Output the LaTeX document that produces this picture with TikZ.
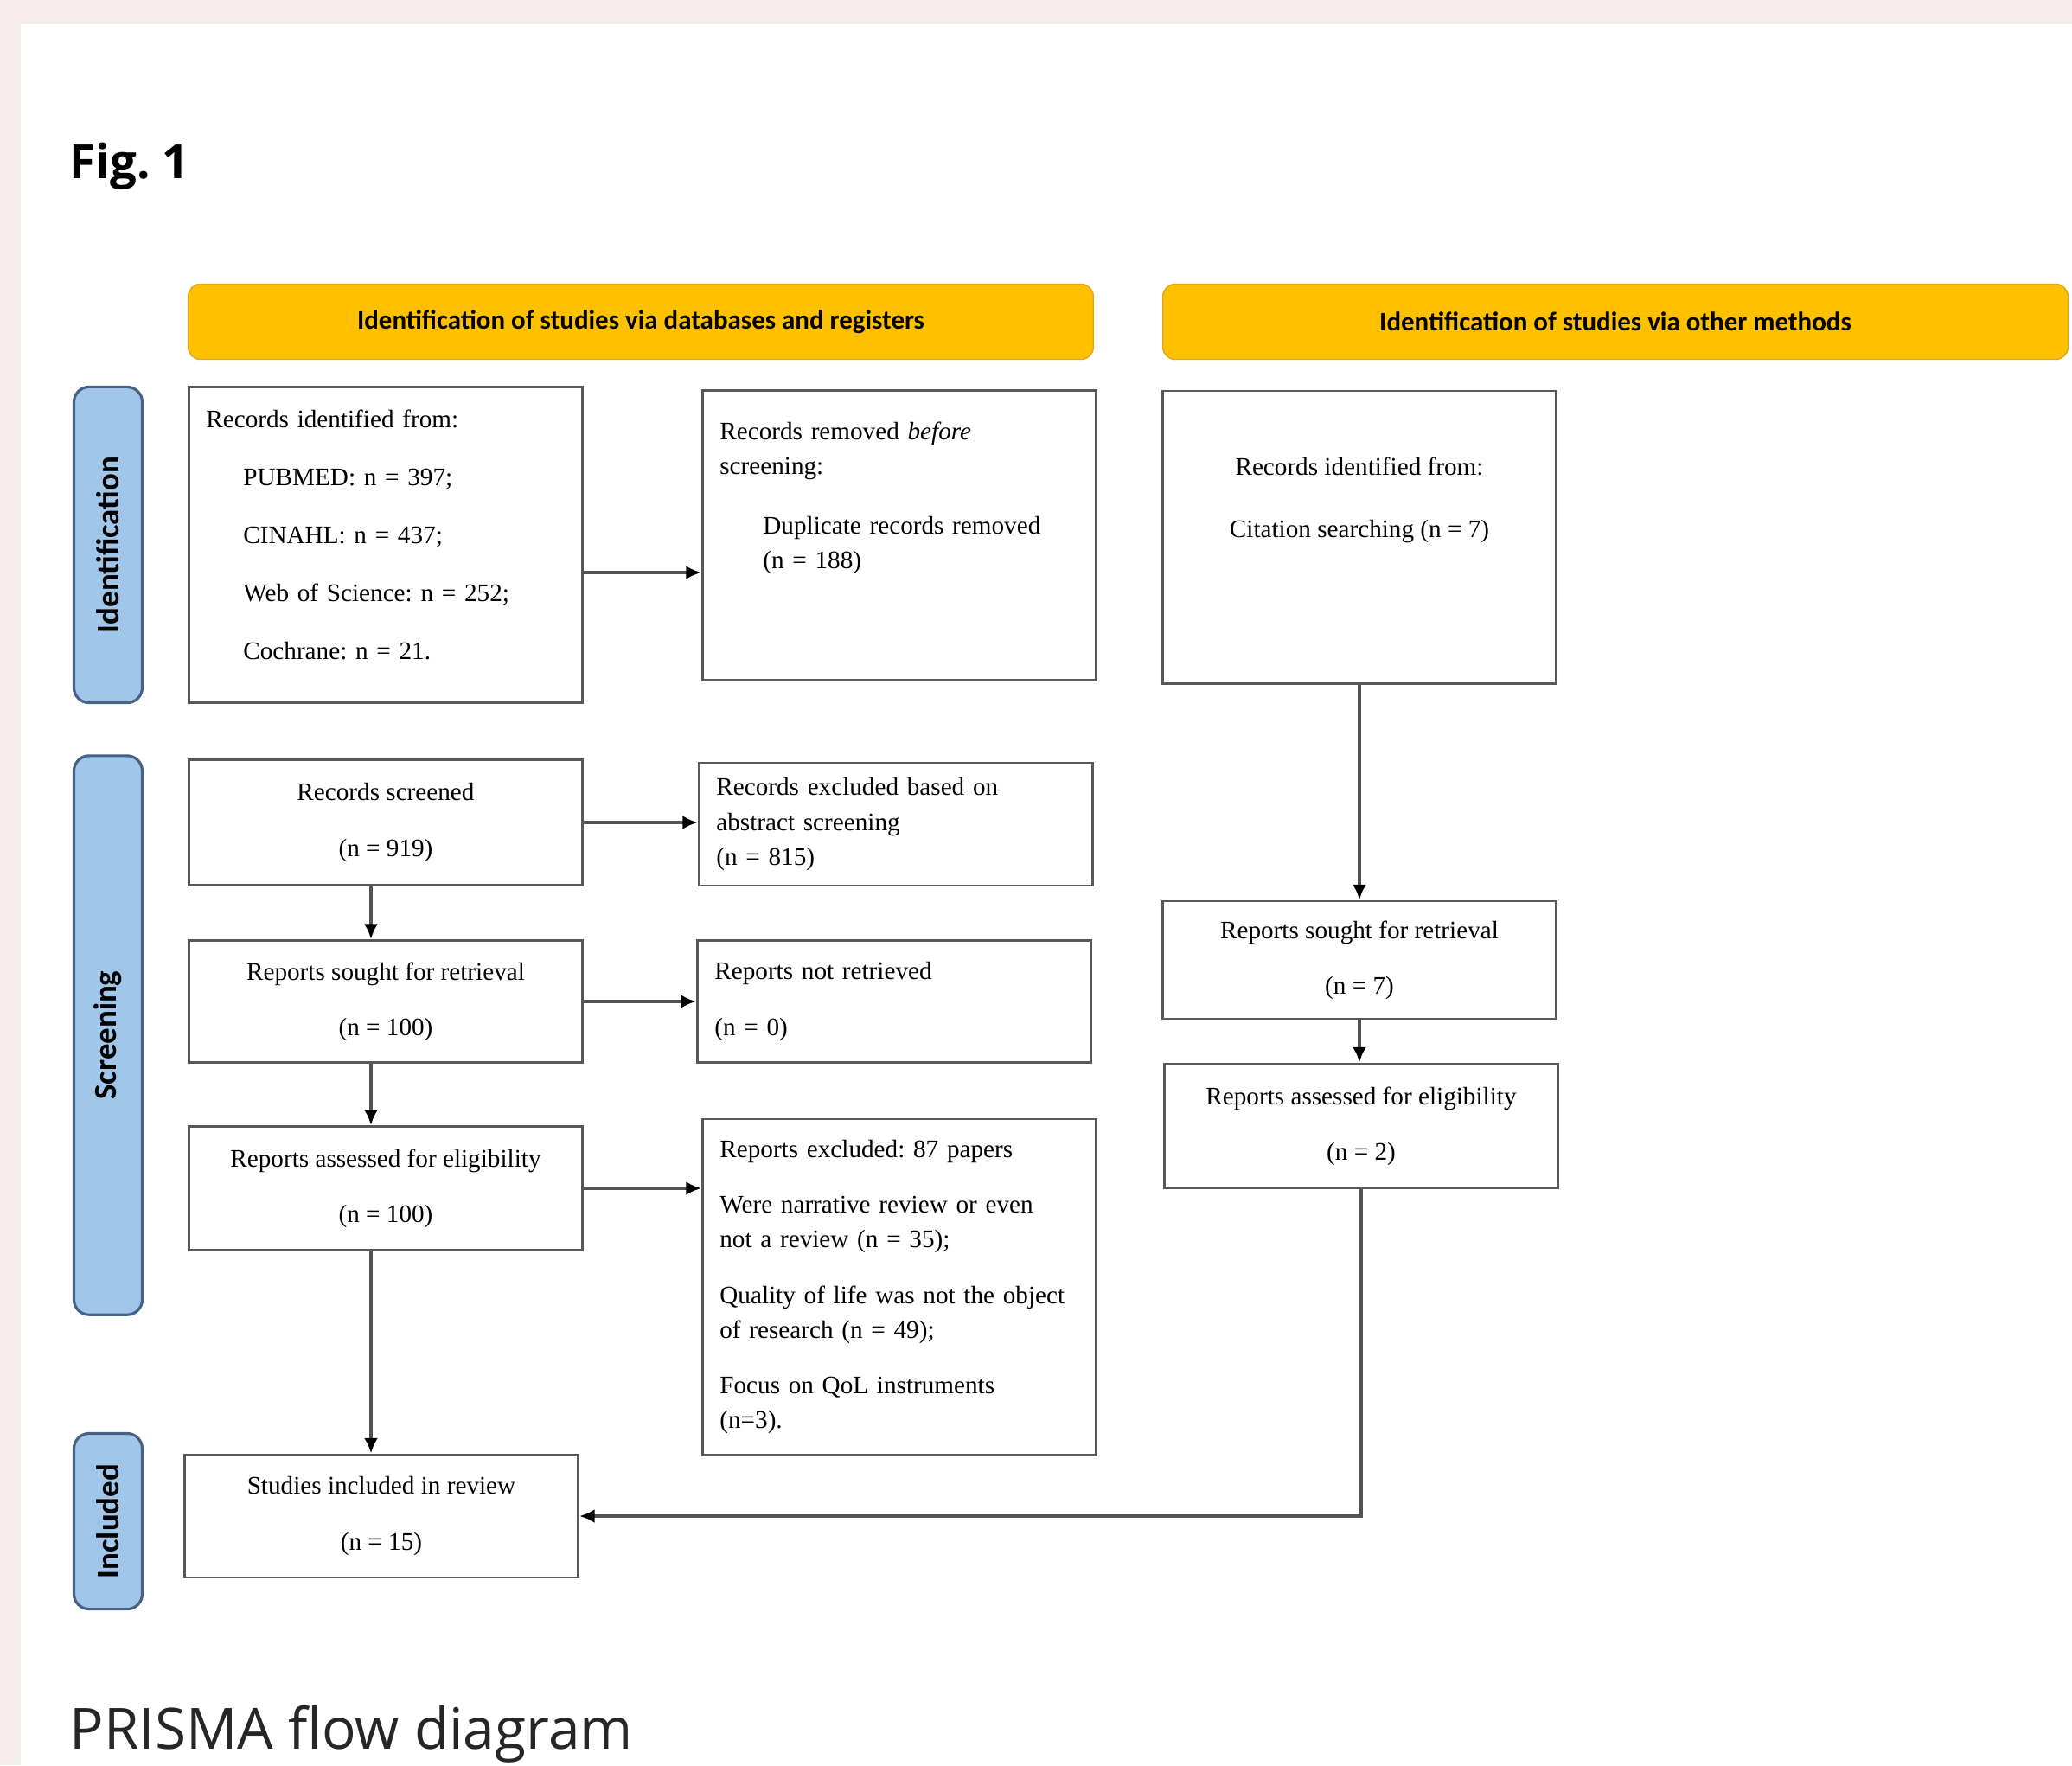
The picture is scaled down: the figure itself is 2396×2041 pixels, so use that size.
\documentclass[tikz,border=0pt]{standalone}
\usepackage{fontspec}
\setmainfont{Liberation Serif}
\newfontfamily\calibrifont{Carlito}
\newfontfamily\opensansfont{Open Sans}
\usepackage{tikz}
\usetikzlibrary{arrows.meta,calc}
\usepackage{xcolor}
\definecolor{headgold}{RGB}{255,192,0}
\definecolor{headedge}{RGB}{222,168,30}
\definecolor{sidefill}{RGB}{160,198,234}
\definecolor{sideedge}{RGB}{72,98,134}
\definecolor{boxedge}{RGB}{88,88,88}
\definecolor{pagepink}{RGB}{247,236,236}
\frenchspacing

\begin{document}
\begin{tikzpicture}[
        x=0.01cm, y=-0.01cm,
        box/.style={draw=boxedge, line width=0.8pt, minimum width=4.55cm, align=center, inner xsep=0.2cm, font=\fontsize{8.3}{11.4}\selectfont},
        lbox/.style={box, align=left, text width=4.15cm},
        head/.style={draw=headedge, fill=headgold, rounded corners=4pt, minimum width=10.46cm, minimum height=0.87cm, font=\calibrifont\bfseries\fontsize{8.8}{10}\selectfont},
        side/.style={draw=sideedge, fill=sidefill, line width=0.9pt, rounded corners=5pt, rotate=90, minimum height=0.79cm, font=\calibrifont\bfseries\fontsize{10.5}{12}\selectfont},
        arr/.style={draw=gray!65!black, line width=1pt, -{Latex[length=5pt, width=4.5pt, color=black]}}
    ]
    % page
    \useasboundingbox (0,0) rectangle (2396,2041);
    \fill[pagepink] (0,0) rectangle (2396,2041);
    \fill[white] (24,28) rectangle (2396,2041);

    \node[anchor=west, inner sep=0pt, font=\opensansfont\bfseries\fontsize{15.5}{18}\selectfont] (figlabel) at (80,192) {Fig. 1};
    \node[anchor=west, inner sep=0pt, text=black!85, font=\opensansfont\fontsize{18.7}{22}\selectfont] (caption) at (80,2005) {PRISMA flow diagram};

    % headers
    \node[head] (headdb) at (741,372) {Identification of studies via databases and registers};
    \node[head] (headother) at (1868,372) {Identification of studies via other methods};

    % phases
    \node[side, minimum width=3.65cm] (phaseid) at (125,630) {Identification};
    \node[side, minimum width=6.46cm] (phasescr) at (125,1197) {Screening};
    \node[side, minimum width=2.03cm] (phaseinc) at (125,1759) {Included};

    % databases column
    \node[lbox, minimum height=3.65cm] (ident) at (446,630) {Records identified from:\\[0.27cm]
        \hspace*{0.43cm}PUBMED: n = 397;\\[0.27cm]
        \hspace*{0.43cm}CINAHL: n = 437;\\[0.27cm]
        \hspace*{0.43cm}Web of Science: n = 252;\\[0.27cm]
        \hspace*{0.43cm}Cochrane: n = 21.\\[-0.16cm]\mbox{}};
    \node[lbox, minimum height=3.35cm] (removed) at (1040,619) {Records removed \emph{before}\\
        screening:\\[0.29cm]
        \hspace*{0.5cm}Duplicate records removed\\
        \hspace*{0.5cm}(n = 188)\\[0.52cm]\mbox{}};
    \node[box, minimum height=1.45cm] (screened) at (446,951) {Records screened\\[0.24cm](n = 919)};
    \node[lbox, minimum height=1.42cm] (excluded) at (1036,953) {Records excluded based on\\abstract screening\\(n = 815)};
    \node[box, minimum height=1.41cm] (sought) at (446,1158) {Reports sought for retrieval\\[0.24cm](n = 100)};
    \node[lbox, minimum height=1.41cm] (notret) at (1034,1158) {Reports not retrieved\\[0.24cm](n = 0)};
    \node[box, minimum height=1.43cm] (assessed) at (446,1374) {Reports assessed for eligibility\\[0.24cm](n = 100)};
    \node[lbox, minimum height=3.88cm] (repexcl) at (1040,1488) {Reports excluded: 87 papers\\[0.24cm]
        Were narrative review or even\\not a review (n = 35);\\[0.24cm]
        Quality of life was not the object\\of research (n = 49);\\[0.24cm]
        Focus on QoL instruments\\(n=3).};
    \node[box, minimum height=1.42cm] (included) at (441,1753) {Studies included in review\\[0.24cm](n = 15)};

    % other methods column
    \node[box, minimum height=3.38cm] (identother) at (1572,621) {Records identified from:\\[0.32cm]Citation searching (n = 7)\\[0.52cm]\mbox{}};
    \node[box, minimum height=1.36cm] (soughtother) at (1572,1110) {Reports sought for retrieval\\[0.24cm](n = 7)};
    \node[box, minimum height=1.44cm] (assessedother) at (1574,1302) {Reports assessed for eligibility\\[0.24cm](n = 2)};

    % arrows
    \draw[arr] ([yshift=-0.32cm]ident.east) -- ([yshift=-0.32cm]ident.east -| removed.west);
    \draw[arr] (screened.east) -- (screened.east -| excluded.west);
    \draw[arr] (sought.east) -- (sought.east -| notret.west);
    \draw[arr] (assessed.east) -- (assessed.east -| repexcl.west);
    \draw[arr] ([xshift=-0.17cm]screened.south) -- ([xshift=-0.17cm]screened.south |- sought.north);
    \draw[arr] ([xshift=-0.17cm]sought.south) -- ([xshift=-0.17cm]sought.south |- assessed.north);
    \draw[arr] ([xshift=-0.17cm]assessed.south) -- ([xshift=-0.17cm]assessed.south |- included.north);
    \draw[arr] (identother.south) -- (identother.south |- soughtother.north);
    \draw[arr] (soughtother.south) -- (soughtother.south |- assessedother.north);
    \draw[arr] (assessedother.south) |- (included.east);
\end{tikzpicture}
\end{document}
